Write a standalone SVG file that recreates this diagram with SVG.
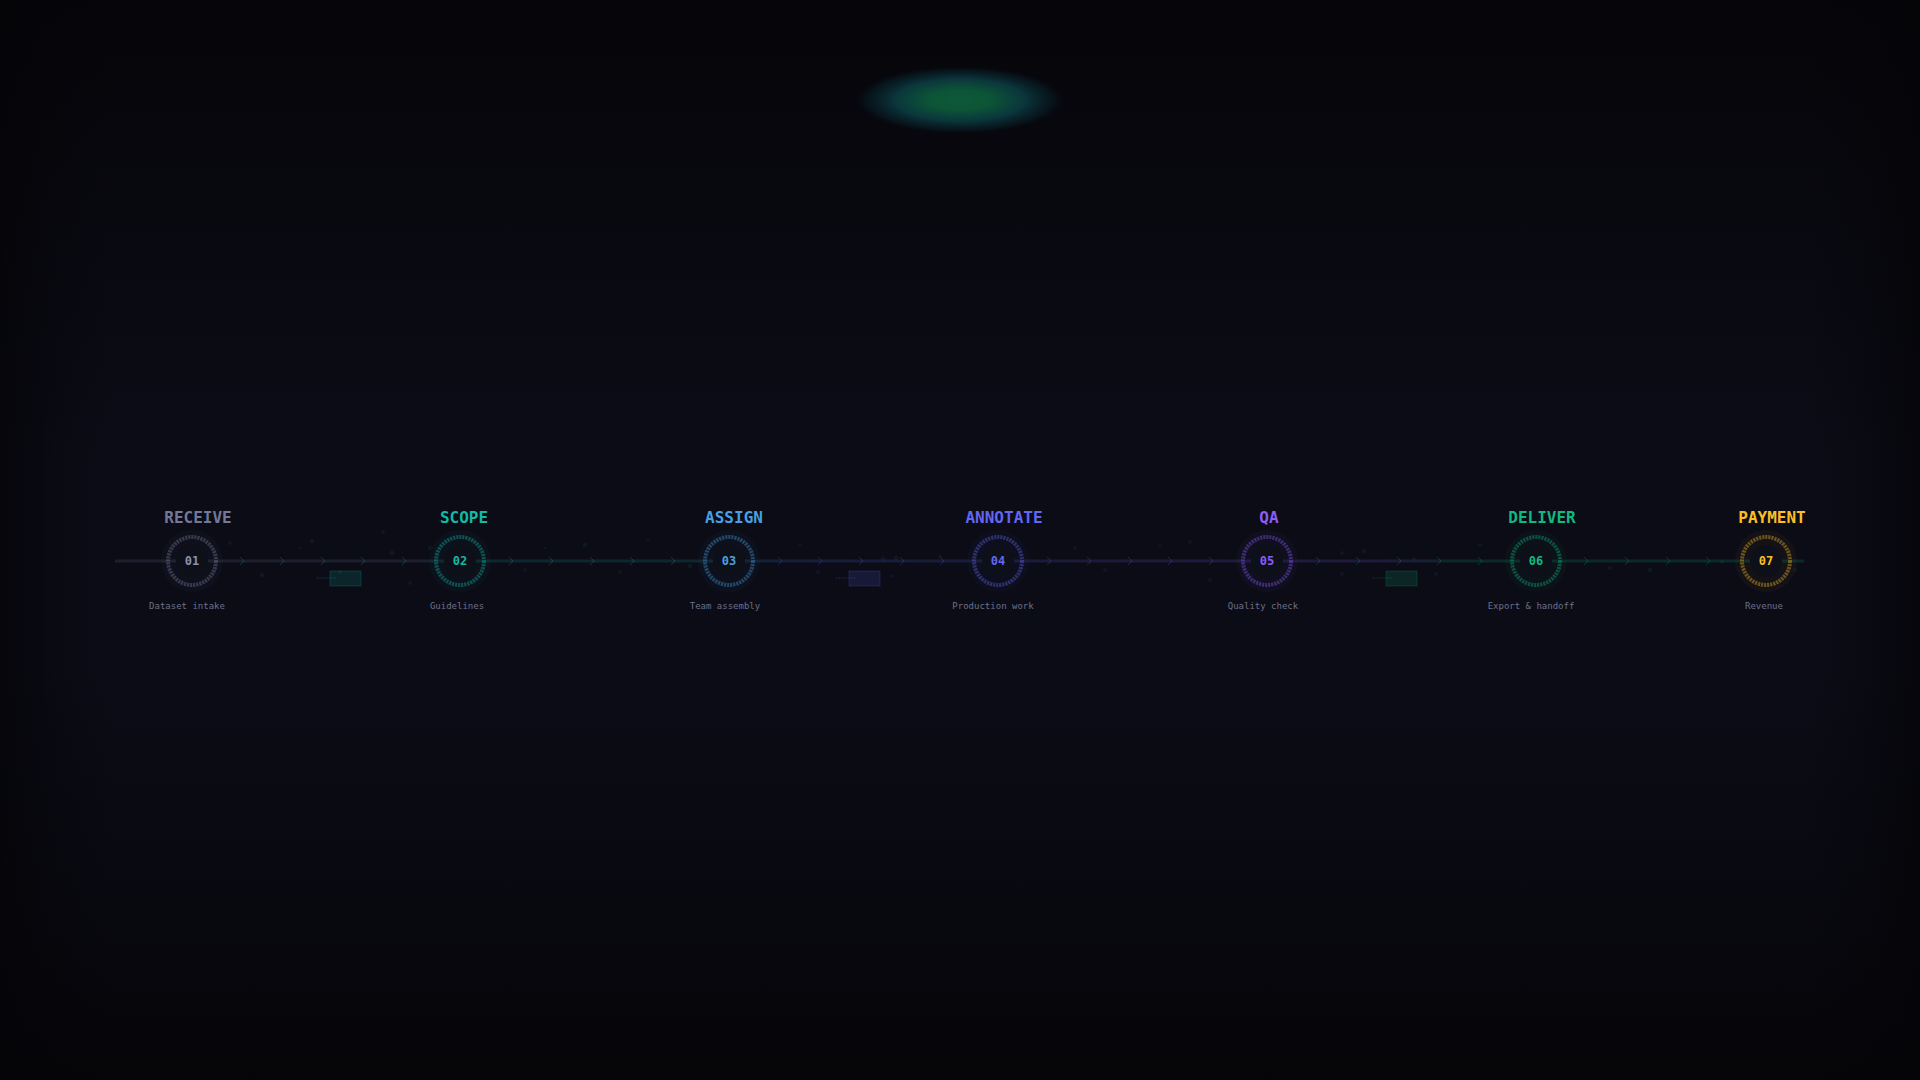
<svg xmlns="http://www.w3.org/2000/svg" width="1920" height="1080" viewBox="0 0 1920 1080">
<defs>
<linearGradient id="bgv" x1="0" y1="0" x2="0" y2="1">
<stop offset="0" stop-color="#050509"/>
<stop offset="0.18" stop-color="#08080f"/>
<stop offset="0.42" stop-color="#0b0c16"/>
<stop offset="0.62" stop-color="#0b0c16"/>
<stop offset="0.85" stop-color="#08080f"/>
<stop offset="1" stop-color="#050508"/>
</linearGradient>
<linearGradient id="bgh" x1="0" y1="0" x2="1" y2="0">
<stop offset="0" stop-color="#040407" stop-opacity="0.7"/>
<stop offset="0.03" stop-color="#040407" stop-opacity="0.25"/>
<stop offset="0.06" stop-color="#040407" stop-opacity="0"/>
<stop offset="0.94" stop-color="#040407" stop-opacity="0"/>
<stop offset="0.97" stop-color="#040407" stop-opacity="0.25"/>
<stop offset="1" stop-color="#040407" stop-opacity="0.7"/>
</linearGradient>
<radialGradient id="glow" cx="0.5" cy="0.5" r="0.5">
<stop offset="0" stop-color="#0d5a38"/>
<stop offset="0.3" stop-color="#0c5436"/>
<stop offset="0.6" stop-color="#0b3f44" stop-opacity="0.85"/>
<stop offset="0.85" stop-color="#0a2a34" stop-opacity="0.4"/>
<stop offset="1" stop-color="#07080d" stop-opacity="0"/>
</radialGradient>
<linearGradient id="lineg" gradientUnits="userSpaceOnUse" x1="115" y1="0" x2="1804" y2="0">
<stop offset="0" stop-color="#7a82a0"/>
<stop offset="0.18" stop-color="#7a82a0"/>
<stop offset="0.204" stop-color="#14b8a6"/>
<stop offset="0.34" stop-color="#14b8a6"/>
<stop offset="0.39" stop-color="#4a7fe8"/>
<stop offset="0.523" stop-color="#6366f1"/>
<stop offset="0.682" stop-color="#8b5cf6"/>
<stop offset="0.75" stop-color="#8b5cf6"/>
<stop offset="0.8" stop-color="#10b981"/>
<stop offset="1" stop-color="#10b981"/>
</linearGradient>
<style>
.lbl{font-family:"DejaVu Sans Mono","Liberation Mono",monospace;font-weight:bold;font-size:16px;text-anchor:middle}
.num{font-family:"DejaVu Sans Mono","Liberation Mono",monospace;font-weight:bold;font-size:12px;text-anchor:middle}
.sub{font-family:"DejaVu Sans Mono","Liberation Mono",monospace;font-size:9px;fill:#6b7089;text-anchor:middle}
.ring{fill:none;stroke-width:4;stroke-dasharray:2.2 0.9;stroke-opacity:0.38}
.halo{stroke:none;fill-opacity:0.04}
.core{fill:#0e1019}
.chev{fill:none;stroke-width:1;stroke-opacity:0.25}
.box{stroke-width:1;fill-opacity:0.15;stroke-opacity:0.2}
.dots{stroke-width:1.5;stroke-dasharray:0.8 2.2;stroke-linecap:round;stroke-opacity:0.18}
.p{fill-opacity:0.08}
</style>
</defs>
<rect width="1920" height="1080" fill="url(#bgv)"/>
<rect width="1920" height="1080" fill="url(#bgh)"/>
<ellipse cx="960" cy="100" rx="108" ry="35" fill="url(#glow)"/>

<g id="particles">
<circle class="p" cx="230" cy="543" r="2" fill="#7a82a0"/>
<circle class="p" cx="262" cy="575" r="2.5" fill="#7a82a0"/>
<circle class="p" cx="300" cy="548" r="1.5" fill="#7a82a0"/>
<circle class="p" cx="312" cy="541" r="2.5" fill="#7a82a0"/>
<circle class="p" cx="340" cy="572" r="2" fill="#14b8a6"/>
<circle class="p" cx="383" cy="532" r="2" fill="#7a82a0"/>
<circle class="p" cx="392" cy="553" r="2.5" fill="#7a82a0"/>
<circle class="p" cx="410" cy="583" r="2" fill="#14b8a6"/>
<circle class="p" cx="430" cy="548" r="2" fill="#14b8a6"/>
<circle class="p" cx="525" cy="570" r="2" fill="#14b8a6"/>
<circle class="p" cx="545" cy="548" r="1.5" fill="#14b8a6"/>
<circle class="p" cx="585" cy="545" r="2.5" fill="#14b8a6"/>
<circle class="p" cx="620" cy="572" r="2" fill="#14b8a6"/>
<circle class="p" cx="648" cy="540" r="1.5" fill="#14b8a6"/>
<circle class="p" cx="690" cy="566" r="2.5" fill="#14b8a6"/>
<circle class="p" cx="800" cy="545" r="2" fill="#6366f1"/>
<circle class="p" cx="818" cy="572" r="2" fill="#6366f1"/>
<circle class="p" cx="883" cy="559" r="2.5" fill="#6366f1"/>
<circle class="p" cx="896" cy="558" r="2.5" fill="#6366f1"/>
<circle class="p" cx="892" cy="576" r="2" fill="#6366f1"/>
<circle class="p" cx="940" cy="556" r="2" fill="#6366f1"/>
<circle class="p" cx="1075" cy="548" r="2" fill="#8b5cf6"/>
<circle class="p" cx="1105" cy="570" r="2" fill="#8b5cf6"/>
<circle class="p" cx="1160" cy="545" r="1.5" fill="#8b5cf6"/>
<circle class="p" cx="1210" cy="580" r="2" fill="#8b5cf6"/>
<circle class="p" cx="1190" cy="542" r="2" fill="#8b5cf6"/>
<circle class="p" cx="1342" cy="553" r="2" fill="#8b5cf6"/>
<circle class="p" cx="1342" cy="574" r="2" fill="#8b5cf6"/>
<circle class="p" cx="1364" cy="551" r="2.5" fill="#8b5cf6"/>
<circle class="p" cx="1414" cy="559" r="2" fill="#10b981"/>
<circle class="p" cx="1436" cy="574" r="2" fill="#10b981"/>
<circle class="p" cx="1480" cy="545" r="2" fill="#10b981"/>
<circle class="p" cx="1610" cy="568" r="2" fill="#10b981"/>
<circle class="p" cx="1650" cy="570" r="2.5" fill="#10b981"/>
<circle class="p" cx="1722" cy="562" r="2" fill="#10b981"/>
<circle class="p" cx="1795" cy="570" r="2" fill="#10b981"/>
</g>

<g id="connectors">
<line x1="115" y1="561" x2="1804" y2="561" stroke="url(#lineg)" stroke-width="3" stroke-opacity="0.16"/>
<g stroke="#14b8a6" class="chev">
<path d="M240 557 L244 561 L240 565"/>
<path d="M280 557 L284 561 L280 565"/>
<path d="M321 557 L325 561 L321 565"/>
<path d="M361 557 L365 561 L361 565"/>
<path d="M402 557 L406 561 L402 565"/>
</g>
<g stroke="#4a9fe0" class="chev">
<path d="M509 557 L513 561 L509 565"/>
<path d="M549 557 L553 561 L549 565"/>
<path d="M590 557 L594 561 L590 565"/>
<path d="M630 557 L634 561 L630 565"/>
<path d="M671 557 L675 561 L671 565"/>
</g>
<g stroke="#6366f1" class="chev">
<path d="M778 557 L782 561 L778 565"/>
<path d="M818 557 L822 561 L818 565"/>
<path d="M859 557 L863 561 L859 565"/>
<path d="M900 557 L904 561 L900 565"/>
<path d="M940 557 L944 561 L940 565"/>
</g>
<g stroke="#8b5cf6" class="chev">
<path d="M1047 557 L1051 561 L1047 565"/>
<path d="M1087 557 L1091 561 L1087 565"/>
<path d="M1128 557 L1132 561 L1128 565"/>
<path d="M1168 557 L1172 561 L1168 565"/>
<path d="M1209 557 L1213 561 L1209 565"/>
</g>
<g stroke="#10b981" class="chev">
<path d="M1316 557 L1320 561 L1316 565"/>
<path d="M1356 557 L1360 561 L1356 565"/>
<path d="M1397 557 L1401 561 L1397 565"/>
<path d="M1437 557 L1441 561 L1437 565"/>
<path d="M1478 557 L1482 561 L1478 565"/>
</g>
<g stroke="#10b981" class="chev">
<path d="M1584 557 L1588 561 L1584 565"/>
<path d="M1625 557 L1629 561 L1625 565"/>
<path d="M1666 557 L1670 561 L1666 565"/>
<path d="M1706 557 L1710 561 L1706 565"/>
</g>
</g>

<g id="markers">
<line class="dots" x1="317" y1="578" x2="338" y2="578" stroke="#14b8a6"/>
<rect class="box" x="330" y="571" width="31" height="15" fill="#14b8a6" stroke="#14b8a6"/>
<line class="dots" x1="836" y1="578" x2="857" y2="578" stroke="#6366f1"/>
<rect class="box" x="849" y="571" width="31" height="15" fill="#6366f1" stroke="#6366f1"/>
<line class="dots" x1="1373" y1="578" x2="1394" y2="578" stroke="#10b981"/>
<rect class="box" x="1386" y="571" width="31" height="15" fill="#10b981" stroke="#10b981"/>
</g>

<g id="node-receive">
<circle class="halo" cx="192" cy="561" r="31" fill="#7a82a0"/>
<circle class="core" cx="192" cy="561" r="16"/>
<circle class="ring" cx="192" cy="561" r="24" stroke="#7a82a0"/>
<text class="lbl" x="198" y="523" fill="#737896">RECEIVE</text>
<text class="num" x="192" y="565" fill="#8a90ab">01</text>
<text class="sub" x="187" y="609">Dataset intake</text>
</g>
<g id="node-scope">
<circle class="halo" cx="460" cy="561" r="31" fill="#14b8a6"/>
<circle class="core" cx="460" cy="561" r="16"/>
<circle class="ring" cx="460" cy="561" r="24" stroke="#14b8a6"/>
<text class="lbl" x="464" y="523" fill="#14b8a6">SCOPE</text>
<text class="num" x="460" y="565" fill="#14b8a6">02</text>
<text class="sub" x="457" y="609">Guidelines</text>
</g>
<g id="node-assign">
<circle class="halo" cx="729" cy="561" r="31" fill="#4a9fe0"/>
<circle class="core" cx="729" cy="561" r="16"/>
<circle class="ring" cx="729" cy="561" r="24" stroke="#4a9fe0"/>
<text class="lbl" x="734" y="523" fill="#4a9fe0">ASSIGN</text>
<text class="num" x="729" y="565" fill="#4a9fe0">03</text>
<text class="sub" x="725" y="609">Team assembly</text>
</g>
<g id="node-annotate">
<circle class="halo" cx="998" cy="561" r="31" fill="#6366f1"/>
<circle class="core" cx="998" cy="561" r="16"/>
<circle class="ring" cx="998" cy="561" r="24" stroke="#6366f1"/>
<text class="lbl" x="1004" y="523" fill="#6366f1">ANNOTATE</text>
<text class="num" x="998" y="565" fill="#6366f1">04</text>
<text class="sub" x="993" y="609">Production work</text>
</g>
<g id="node-qa">
<circle class="halo" cx="1267" cy="561" r="31" fill="#8b5cf6"/>
<circle class="core" cx="1267" cy="561" r="16"/>
<circle class="ring" cx="1267" cy="561" r="24" stroke="#8b5cf6"/>
<text class="lbl" x="1269" y="523" fill="#8b5cf6">QA</text>
<text class="num" x="1267" y="565" fill="#8b5cf6">05</text>
<text class="sub" x="1263" y="609">Quality check</text>
</g>
<g id="node-deliver">
<circle class="halo" cx="1536" cy="561" r="31" fill="#10b981"/>
<circle class="core" cx="1536" cy="561" r="16"/>
<circle class="ring" cx="1536" cy="561" r="24" stroke="#10b981"/>
<text class="lbl" x="1542" y="523" fill="#10b981">DELIVER</text>
<text class="num" x="1536" y="565" fill="#10b981">06</text>
<text class="sub" x="1531" y="609">Export &amp; handoff</text>
</g>
<g id="node-payment">
<circle class="halo" cx="1766" cy="561" r="31" fill="#fbbf24"/>
<circle class="core" cx="1766" cy="561" r="16"/>
<circle class="ring" cx="1766" cy="561" r="24" stroke="#fbbf24"/>
<text class="lbl" x="1772" y="523" fill="#fbbf24">PAYMENT</text>
<text class="num" x="1766" y="565" fill="#fbbf24">07</text>
<text class="sub" x="1764" y="609">Revenue</text>
</g>
</svg>
